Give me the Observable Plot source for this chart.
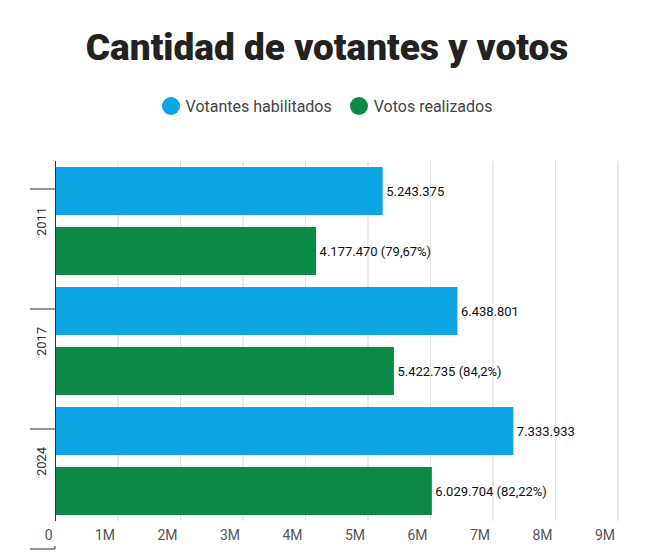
<!DOCTYPE html>
<html><head><meta charset="utf-8">
<script src="https://cdn.jsdelivr.net/npm/d3@7"></script>
<script src="https://cdn.jsdelivr.net/npm/@observablehq/plot@0.6"></script>
<style>
body{margin:0;background:#fff;font-family:Roboto,sans-serif;width:654px}
h1{margin:0;padding-top:24px;text-align:center;font-size:37px;font-weight:900;color:#222;height:48px;line-height:48px}
.leg{display:flex;justify-content:center;gap:18px;margin-top:22px;font-size:16px;color:#444;height:24px;align-items:center}
.leg span{display:inline-flex;align-items:center}
.leg i{display:inline-block;width:18px;height:18px;border-radius:50%;margin-right:6px}
</style></head><body>
<h1>Cantidad de votantes y votos</h1>
<div class="leg"><span><i style="background:#0ea5e6"></i>Votantes habilitados</span><span><i style="background:#0b8a47"></i>Votos realizados</span></div>
<div id="c" style="margin-top:14px"></div>
<script>
const years=["2011","2017","2024"];
const series=["Votantes habilitados","Votos realizados"];
const habilitados=[5243375,6438801,7333933];
const votos=[4177470,5422735,6029704];
const pct=["79,67%","84,2%","82,22%"];
const ticks=[0,1e6,2e6,3e6,4e6,5e6,6e6,7e6,8e6,9e6];
const fmt=v=>v.toString().replace(/\B(?=(\d{3})+(?!\d))/g,".");
const data=[];
years.forEach((y,i)=>{
 data.push({year:y,s:series[0],v:habilitados[i],label:fmt(habilitados[i])});
 data.push({year:y,s:series[1],v:votos[i],label:fmt(votos[i])+" ("+pct[i]+")"});
});
const MT=28;
const plot=Plot.plot({
 width:654,height:420,marginLeft:55,marginRight:24,marginTop:MT,marginBottom:30,
 style:{fontFamily:"Roboto,sans-serif",fontSize:"13px",color:"#333"},
 x:{domain:[0,9.2e6],ticks:ticks,tickFormat:d=>d===0?"0":(d/1e6)+"M",tickSize:0,label:null,grid:true},
 y:{domain:series,axis:null,paddingInner:0.2,paddingOuter:0.1},
 fy:{domain:years,label:null,padding:0,tickSize:0,tickRotate:-90,tickPadding:10},
 color:{domain:series,range:["#0ea5e6","#0b8a47"]},
 marks:[
  Plot.axisX({ticks:ticks,tickFormat:d=>d===0?"0":(d/1e6)+"M",tickSize:0,textAnchor:"end",dx:-3,dy:0,fill:"#555",fontSize:14}),
  Plot.gridX(ticks,{stroke:"#e2e2e2",strokeOpacity:1}),
  Plot.barX(data,{fy:"year",y:"s",x:"v",fill:"s"}),
  Plot.text(data,{fy:"year",y:"s",x:"v",text:"label",textAnchor:"start",dx:3,fill:"#111",fontSize:13}),
  Plot.ruleX([0],{stroke:"#333"})
 ]
});
document.getElementById("c").appendChild(plot);
const fy=plot.scale("fy");
const svg=d3.select(plot);
const edges=[...years.map(y=>fy.apply(y)),fy.apply(years[2])+fy.bandwidth];
svg.append("g").selectAll("line").data(edges).join("line")
 .attr("x1",30).attr("x2",55).attr("y1",d=>d+MT).attr("y2",d=>d+MT).attr("stroke","#333");
svg.append("line").attr("x1",55).attr("x2",55).attr("y1",edges[3]+MT).attr("y2",414).attr("stroke","#333");
</script></body></html>
